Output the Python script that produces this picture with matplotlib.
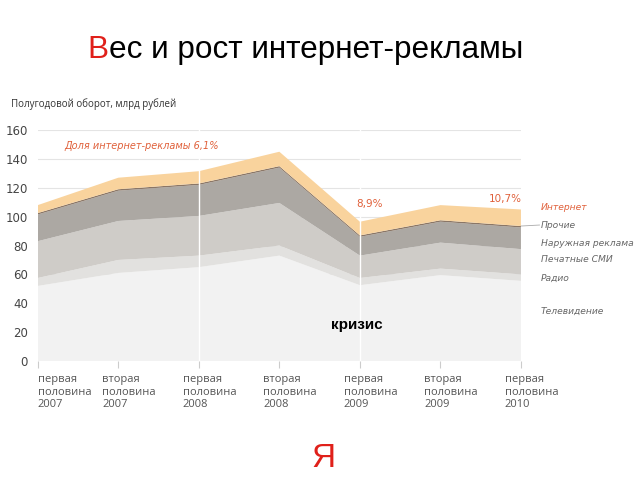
import matplotlib
matplotlib.use('Agg')
import matplotlib.pyplot as plt

# полугодия
periods = ['первая\nполовина\n2007', 'вторая\nполовина\n2007',
           'первая\nполовина\n2008', 'вторая\nполовина\n2008',
           'первая\nполовина\n2009', 'вторая\nполовина\n2009',
           'первая\nполовина\n2010']

# млрд рублей, снизу вверх
tv       = [52, 61, 65, 73, 52.5, 59.5, 55.5]
radio    = [5.5, 9, 8, 7, 5, 4.5, 4.5]
press    = [25.5, 27, 27.5, 29.5, 15.5, 18, 17.5]
outdoor  = [18.5, 21, 21.5, 24.5, 13, 14.5, 15]
other    = [1, 1, 1, 1, 1, 1, 1]
internet = [5.5, 8, 8.5, 10, 9.5, 10.5, 11.5]

layer_names = ['Телевидение', 'Радио', 'Печатные СМИ', 'Наружная реклама', 'Прочие', 'Интернет']
colors = ['#f2f2f2', '#e2e1df', '#cfccc8', '#aca8a3', '#8a7666', '#f9d39d']

shares = ['6,1%', '8,9%', '10,7%']

x = range(len(periods))

fig = plt.figure(figsize=(6.4, 4.8), dpi=100)
ax = fig.add_axes([0.059, 0.248, 0.755, 0.481])

for y in range(0, 161, 20):
    ax.axhline(y, color='#e4e4e4', lw=0.8, zorder=0, xmin=-0.01)
ax.stackplot(x, tv, radio, press, outdoor, other, internet, colors=colors, zorder=2)
ax.axvline(2, color='white', lw=1, zorder=3)
ax.axvline(4, color='white', lw=1, zorder=3)

ax.set_xlim(0, 6)
ax.set_ylim(0, 160)
for s in ax.spines.values():
    s.set_visible(False)
ax.set_yticks(range(0, 161, 20))
ax.tick_params(axis='y', length=0, labelsize=8.5, labelcolor='#444444', pad=7)
ax.set_xticks(list(x))
ax.set_xticklabels([])
ax.tick_params(axis='x', length=5, color='#cccccc', direction='out')

for i, lab in enumerate(periods):
    dx = 0 if i == 0 else -0.2
    ax.text(i + dx, -9, lab, ha='left', va='top', fontsize=8, color='#555555',
            linespacing=1.2, family='Open Sans')

ax.text(-0.33, 178, 'Полугодовой оборот, млрд рублей', fontsize=7, color='#333333',
        family='Open Sans', va='center')
ax.text(0.33, 149, 'Доля интернет-рекламы ' + shares[0], fontsize=7, color='#e0603a',
        style='italic', va='center')
ax.text(3.95, 109, shares[1], fontsize=7.5, color='#e0603a', va='center')
ax.text(5.6, 112, shares[2], fontsize=7.5, color='#e0603a', va='center')
ax.text(3.96, 25, 'кризис', fontsize=11, fontweight='bold', color='black',
        family='Liberation Sans', va='center', ha='center')

# подписи слоёв справа
label_y = [34.6, 57.5, 70, 81.7, 94.2, 106.6]
tops = [sum(v) for v in zip(tv, radio, press, outdoor, other)]
for name, ly in zip(layer_names, label_y):
    c = '#e0603a' if name == 'Интернет' else '#666666'
    ax.text(6.25, ly, name, fontsize=6.6, style='italic', color=c, va='center', clip_on=False)
ax.plot([6, 6.23], [tops[-1], 94.2], color='#aaaaaa', lw=0.6, clip_on=False)

t1 = fig.text(0.137, 0.879, 'В', fontsize=22.7, color='#e0201a', family='Liberation Sans')
ax.annotate('ес и рост интернет-рекламы', xy=(1, 0), xycoords=t1, va='bottom',
            fontsize=22.7, color='black', family='Liberation Sans', annotation_clip=False)

fig.text(0.486, 0.027, 'Я', fontsize=24, color='#e0201a', family='Liberation Sans')

fig.savefig('out.png', dpi=100)
